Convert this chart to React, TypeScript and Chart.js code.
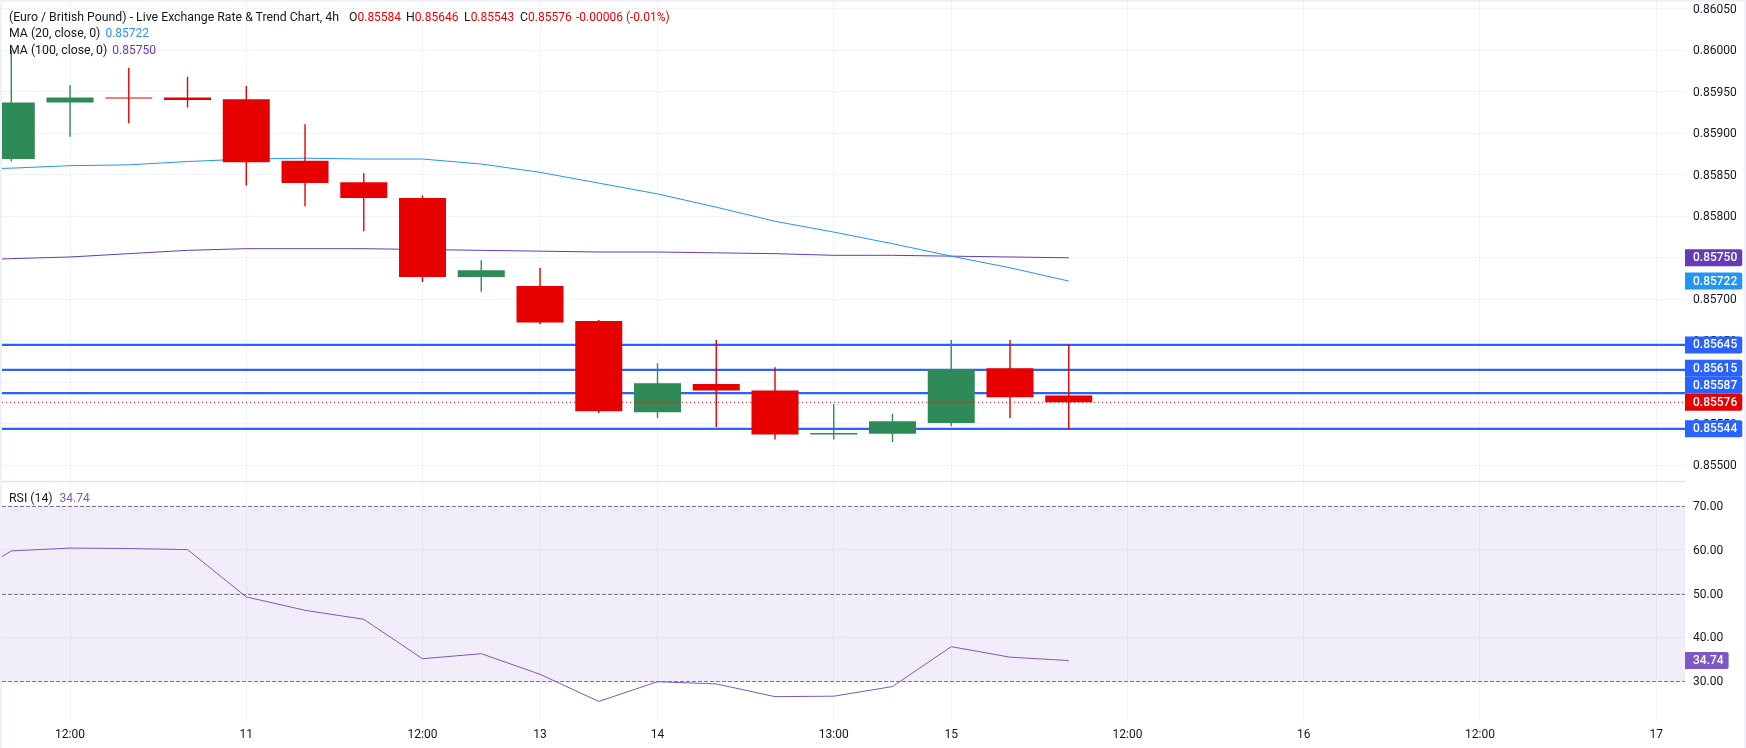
import React, { useEffect, useRef } from "react";
import { Chart, registerables } from "chart.js";

Chart.register(...registerables);

// 4h candles, Euro / British Pound
const candleOpen = [0.85869, 0.85937, 0.85943, 0.85943, 0.85941, 0.85867, 0.85841, 0.85822, 0.85727, 0.85716, 0.85674, 0.85564, 0.85598, 0.8559, 0.85537, 0.85538, 0.85551, 0.85617, 0.85584];
const candleHigh = [0.86, 0.85958, 0.85979, 0.85968, 0.85957, 0.85911, 0.85852, 0.85825, 0.85747, 0.85738, 0.85675, 0.85623, 0.85651, 0.85618, 0.85574, 0.85562, 0.85651, 0.85651, 0.85646];
const candleLow = [0.85866, 0.85896, 0.85912, 0.85931, 0.85837, 0.85812, 0.85782, 0.85721, 0.85709, 0.8567, 0.85563, 0.85557, 0.85546, 0.85531, 0.85531, 0.85528, 0.85547, 0.85557, 0.85543];
const candleClose = [0.85937, 0.85943, 0.85942, 0.8594, 0.85865, 0.8584, 0.85822, 0.85727, 0.85735, 0.85672, 0.85565, 0.85599, 0.8559, 0.85537, 0.85539, 0.85553, 0.85616, 0.85582, 0.85576];

// these three start one candle before the first visible one
const ma20Values = [0.85856, 0.85858, 0.85861, 0.85862, 0.85866, 0.85869, 0.8587, 0.85869, 0.85869, 0.85863, 0.85853, 0.8584, 0.85827, 0.85811, 0.85794, 0.85781, 0.85767, 0.85752, 0.85738, 0.85722];
const ma100Values = [0.85746, 0.85749, 0.85751, 0.85755, 0.85759, 0.85761, 0.85761, 0.85761, 0.8576, 0.85759, 0.85758, 0.85757, 0.85757, 0.85756, 0.85755, 0.85753, 0.85753, 0.85752, 0.85751, 0.8575];
const rsiValues = [51.5, 59.75, 60.4, 60.3, 60.05, 49.25, 46.2, 44.15, 35.15, 36.3, 31.6, 25.4, 29.9, 29.4, 26.5, 26.6, 28.8, 37.9, 35.5, 34.74];

const levelValues = [0.85645, 0.85615, 0.85587, 0.85544];
const lastPrice = 0.85576;

const priceTicks = [0.8605, 0.86, 0.8595, 0.859, 0.8585, 0.858, 0.8575, 0.857, 0.8565, 0.856, 0.8555, 0.855];
const rsiTicks = [70, 60, 50, 40, 30];
const rsiGuides = [70, 50, 30];

const xTickPositions = [1, 4, 7, 9, 11, 14, 16, 19, 22, 25, 28];
const xTickLabels = ["12:00", "11", "12:00", "13", "14", "13:00", "15", "12:00", "16", "12:00", "17"];

const FONT = "Roboto, sans-serif";
const RED = "#e60000";
const GREEN = "#2e8b57";
const BLUE = "#2962ff";
const MA20 = "#2196f3";
const MA100 = "#673ab7";
const RSI = "#7e57c2";
const GRID = "#f0f3fa";
const TEXT = "#131722";

const xMin = -0.158;
const xMax = 28.49;

const indices = candleOpen.map((_, i) => i);
const candleColors = indices.map((i) => (candleClose[i] >= candleOpen[i] ? GREEN : RED));

const lineData = (values: number[]) => values.map((y, i) => ({ x: i - 1, y }));

const lineDataset = (label: string, data: any[], color: string, extra: any = {}) => ({
  type: "line" as const,
  label,
  data,
  borderColor: color,
  borderWidth: 1,
  pointRadius: 0,
  tension: 0,
  order: 2,
  ...extra,
});

// tick labels may hang over the pane edges, like the original
const fitAxis = (size: "width" | "height", px: number) => (scale: any) => {
  scale[size] = px;
  scale.paddingTop = 0;
  scale.paddingBottom = 0;
  scale.paddingLeft = 0;
  scale.paddingRight = 0;
};

function badge(ctx: CanvasRenderingContext2D, left: number, y: number, text: string, color: string) {
  ctx.font = `500 12px ${FONT}`;
  const w = ctx.measureText(text).width + 13;
  ctx.fillStyle = color;
  ctx.beginPath();
  ctx.roundRect(left, y - 8.5, w, 17, [0, 2, 2, 0]);
  ctx.fill();
  ctx.fillStyle = "#ffffff";
  ctx.textAlign = "left";
  ctx.textBaseline = "middle";
  ctx.fillText(text, left + 8, y + 0.5);
}

const panePlugin = {
  id: "panes",
  beforeDatasetsDraw(chart: any) {
    const { ctx, chartArea, scales } = chart;
    const rsi = scales.yRsi;
    ctx.save();
    // RSI band
    ctx.fillStyle = "rgba(126, 87, 194, 0.1)";
    const top = rsi.getPixelForValue(rsiGuides[0]);
    const bottom = rsi.getPixelForValue(rsiGuides[2]);
    ctx.fillRect(chartArea.left, top, chartArea.width, bottom - top);
    ctx.strokeStyle = "#787b86";
    ctx.lineWidth = 1;
    ctx.setLineDash([4, 2]);
    rsiGuides.forEach((v) => {
      const y = Math.round(rsi.getPixelForValue(v)) + 0.5;
      ctx.beginPath();
      ctx.moveTo(chartArea.left, y);
      ctx.lineTo(chartArea.right, y);
      ctx.stroke();
    });
    ctx.setLineDash([]);
    // pane separator
    ctx.strokeStyle = "#e0e3eb";
    ctx.lineWidth = 1.5;
    const sep = scales.y.bottom;
    ctx.beginPath();
    ctx.moveTo(chartArea.left, sep);
    ctx.lineTo(chartArea.right, sep);
    ctx.stroke();
    ctx.restore();
  },
  afterDraw(chart: any) {
    const { ctx, chartArea, scales } = chart;
    ctx.save();
    const left = chartArea.right;
    const items = [
      { value: ma100Values[ma100Values.length - 1], color: MA100 },
      { value: ma20Values[ma20Values.length - 1], color: MA20 },
      ...levelValues.map((value) => ({ value, color: BLUE })),
      { value: lastPrice, color: RED },
    ];
    // labels push upward from the bottom so they never overlap, last price stays put
    const sorted = items
      .map((it) => ({ ...it, y: scales.y.getPixelForValue(it.value) }))
      .sort((a, b) => b.y - a.y);
    let prev = Infinity;
    sorted.forEach((it) => {
      it.y = Math.min(it.y, prev - 17);
      prev = it.y;
    });
    sorted.forEach((it) => badge(ctx, left, it.y, it.value.toFixed(5), it.color));
    const lastRsi = rsiValues[rsiValues.length - 1];
    badge(ctx, left, scales.yRsi.getPixelForValue(lastRsi), lastRsi.toFixed(2), RSI);
    ctx.restore();
  },
};

const legendLine: React.CSSProperties = {
  position: "absolute",
  left: 9,
  whiteSpace: "pre",
  font: `12.3px ${FONT}`,
  color: TEXT,
  lineHeight: "16px",
};

const App: React.FC = () => {
  const chartRef = useRef<HTMLCanvasElement | null>(null);

  useEffect(() => {
    if (!chartRef.current) return;
    const ctx = chartRef.current.getContext("2d");
    if (!ctx) return;

    const levelDatasets = levelValues.map((v) =>
      lineDataset(`level ${v}`, [{ x: xMin, y: v }, { x: xMax, y: v }], BLUE, { borderWidth: 2.3 }),
    );

    const myChart = new Chart(ctx, {
      type: "bar",
      data: {
        datasets: [
          {
            label: "bodies",
            data: indices.map((i) => ({ x: i, y: [candleOpen[i], candleClose[i]] })),
            backgroundColor: candleColors,
            barThickness: 47,
            grouped: false,
            inflateAmount: 0,
            minBarLength: 1,
            order: 1,
          },
          {
            label: "wicks",
            data: indices.map((i) => ({ x: i, y: [candleLow[i], candleHigh[i]] })),
            backgroundColor: candleColors,
            barThickness: 1.4,
            grouped: false,
            inflateAmount: 0,
            order: 1,
          },
          ...levelDatasets,
          lineDataset("MA 20", lineData(ma20Values), MA20),
          lineDataset("MA 100", lineData(ma100Values), MA100),
          lineDataset("last", [{ x: xMin, y: lastPrice }, { x: xMax, y: lastPrice }], RED, {
            borderDash: [1, 3],
            order: 0,
          }),
          lineDataset("RSI", lineData(rsiValues), RSI, { yAxisID: "yRsi" }),
        ] as any,
      },
      options: {
        responsive: false,
        animation: false,
        events: [],
        layout: { padding: 0 },
        plugins: { legend: { display: false }, tooltip: { enabled: false } },
        scales: {
          x: {
            type: "linear",
            min: xMin,
            max: xMax,
            offset: false,
            grid: { color: GRID, drawTicks: false, offset: false },
            border: { display: false },
            afterBuildTicks: (scale: any) => {
              scale.ticks = xTickPositions.map((value) => ({ value }));
            },
            afterFit: fitAxis("height", 26),
            ticks: {
              autoSkip: false,
              maxRotation: 0,
              padding: 6,
              color: TEXT,
              font: { family: FONT, size: 12 },
              callback: (value: any) => xTickLabels[xTickPositions.indexOf(value)],
            },
          },
          y: {
            type: "linear",
            position: "right",
            stack: "panes",
            stackWeight: 479.5,
            weight: 1,
            min: 0.854805,
            max: 0.860582,
            grid: { color: GRID, drawTicks: false },
            border: { display: false },
            afterBuildTicks: (scale: any) => {
              scale.ticks = priceTicks.map((value) => ({ value }));
            },
            afterFit: fitAxis("width", 59),
            ticks: {
              padding: 8,
              labelOffset: 1,
              color: TEXT,
              font: { family: FONT, size: 12 },
              callback: (value: any) => Number(value).toFixed(5),
            },
          },
          yRsi: {
            type: "linear",
            position: "right",
            stack: "panes",
            stackWeight: 240.5,
            weight: 2,
            min: 20.71,
            max: 75.59,
            grid: { color: GRID, drawTicks: false },
            border: { display: false },
            afterBuildTicks: (scale: any) => {
              scale.ticks = rsiTicks.map((value) => ({ value }));
            },
            afterFit: fitAxis("width", 59),
            ticks: {
              padding: 8,
              labelOffset: 1,
              color: TEXT,
              font: { family: FONT, size: 12 },
              callback: (value: any) => Number(value).toFixed(2),
            },
          },
        },
      } as any,
      plugins: [panePlugin],
    });

    return () => {
      myChart.destroy();
    };
  }, []);

  const n = candleOpen.length - 1;
  const change = candleClose[n] - candleClose[n - 1];
  const changePct = (change / candleClose[n - 1]) * 100;
  const value = { color: "#f00000", fontSize: 12 };
  const at = (left: number): React.CSSProperties => ({ position: "absolute", left: left - 9, top: 0 });

  return (
    <div style={{ position: "absolute", left: 0, top: 0, width: 1746, height: 748, background: "#eff0f9", overflow: "hidden" }}>
      <canvas
        ref={chartRef}
        width={1742}
        height={746}
        style={{ position: "absolute", left: 2, top: 2, width: 1742, height: 746, background: "#ffffff" }}
      />
      <div style={{ ...legendLine, top: 9 }}>
        (Euro / British Pound) - Live Exchange Rate &amp; Trend Chart, 4h
        <span style={at(349)}>O<span style={value}>{candleOpen[n].toFixed(5)}</span></span>
        <span style={at(406)}>H<span style={value}>{candleHigh[n].toFixed(5)}</span></span>
        <span style={at(464)}>L<span style={value}>{candleLow[n].toFixed(5)}</span></span>
        <span style={at(520)}>C<span style={value}>{candleClose[n].toFixed(5)}</span></span>
        <span style={{ ...at(576), ...value }}>{change.toFixed(5)} ({changePct.toFixed(2)}%)</span>
      </div>
      <div style={{ ...legendLine, top: 25 }}>
        MA (20, close, 0)<span style={{ marginLeft: 5, fontSize: 12, color: MA20 }}>{ma20Values[ma20Values.length - 1].toFixed(5)}</span>
      </div>
      <div style={{ ...legendLine, top: 42 }}>
        MA (100, close, 0)<span style={{ marginLeft: 5, fontSize: 12, color: MA100 }}>{ma100Values[ma100Values.length - 1].toFixed(5)}</span>
      </div>
      <div style={{ ...legendLine, top: 490 }}>
        RSI (14)<span style={{ marginLeft: 7, fontSize: 12, color: RSI }}>{rsiValues[rsiValues.length - 1].toFixed(2)}</span>
      </div>
    </div>
  );
};

export default App;
